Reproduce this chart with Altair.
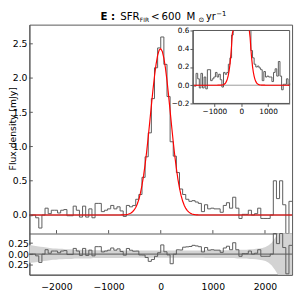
import altair as alt
import pandas as pd

# ---------------- data ----------------
bin_lo = -2520   # left edge of first channel (km/s)
bin_w = 60       # channel width (km/s)
flux = [-0.01, 0.00, -0.04, -0.19, 0.00, 0.10, 0.02, 0.07, 0.07, 0.03,
        0.07, 0.08, -0.01, -0.01, 0.13, 0.07, -0.03, 0.13, -0.03, 0.09,
        -0.04, 0.17, 0.17, 0.05, 0.07, 0.09, 0.14, 0.09, 0.12, 0.06,
        -0.02, 0.14, 0.12, 0.14, 0.23, 0.30, 0.55, 0.85, 1.20, 1.70,
        2.15, 2.44, 2.60, 2.20, 1.73, 1.07, 0.86, 0.62, 0.38, 0.30,
        0.23, 0.20, 0.21, 0.19, 0.17, 0.05, 0.15, 0.09, 0.10, 0.09,
        0.09, 0.04, 0.14, 0.18, 0.10, 0.26, 0.10, -0.05, 0.01, 0.01,
        0.07, 0.00, 0.02, 0.10, -0.05, -0.05, -0.05, 0.00, 0.50, 0.24,
        0.50, 0.15, -0.45, 0.20]
noise = [0.20, 0.19, 0.18, 0.17, 0.16, 0.15, 0.14, 0.13, 0.13, 0.12,
         0.12, 0.11, 0.11, 0.11, 0.10, 0.10, 0.10, 0.10, 0.10, 0.10,
         0.09, 0.09, 0.09, 0.09, 0.09, 0.09, 0.09, 0.09, 0.09, 0.09,
         0.085, 0.085, 0.085, 0.085, 0.085, 0.085, 0.085, 0.085, 0.085, 0.085,
         0.085, 0.085, 0.085, 0.085, 0.085, 0.085, 0.085, 0.085, 0.085, 0.085,
         0.085, 0.085, 0.085, 0.085, 0.085, 0.085, 0.09, 0.09, 0.09, 0.09,
         0.09, 0.09, 0.09, 0.09, 0.09, 0.09, 0.10, 0.10, 0.10, 0.10,
         0.11, 0.11, 0.12, 0.13, 0.14, 0.16, 0.20, 0.26, 0.36, 0.50,
         0.65, 0.80, 1.00, 1.20]
fit_v0 = -900    # first velocity of the fitted profile (km/s)
fit_dv = 30      # sampling of the fitted profile (km/s)
fit = [0.0000, 0.0001, 0.0002, 0.0003, 0.0006, 0.0012, 0.0022, 0.0039, 0.0068, 0.0115,
       0.019, 0.031, 0.048, 0.074, 0.110, 0.161, 0.229, 0.319, 0.432, 0.571,
       0.737, 0.928, 1.140, 1.366, 1.597, 1.822, 2.027, 2.201, 2.331, 2.409,
       2.429, 2.390, 2.293, 2.147, 1.962, 1.748, 1.520, 1.290, 1.067, 0.862,
       0.679, 0.522, 0.391, 0.286, 0.204, 0.142, 0.097, 0.064, 0.042, 0.026,
       0.016, 0.0097, 0.0057, 0.0032, 0.0018, 0.0010, 0.0005, 0.0003, 0.0001, 0.0001,
       0.0000]

main_yticks = [0.0, 0.5, 1.0, 1.5, 2.0, 2.5]
res_yticks = [-0.25, 0.0, 0.25]
xticks = [-2000, -1000, 0, 1000, 2000]
inset_yticks = [-0.2, 0.0, 0.2, 0.4, 0.6]
inset_xticks = [-1000, 0, 1000]

# ---------------- derived tables ----------------
n = len(flux)
edges = [bin_lo + bin_w * i for i in range(n + 1)]
centers = [bin_lo + bin_w * i + bin_w // 2 for i in range(n)]
fit_x = [fit_v0 + fit_dv * i for i in range(len(fit))]
fit_map = dict(zip(fit_x, fit))
model_c = [fit_map.get(c, 0.0) for c in centers]
resid = [round(f - m, 4) for f, m in zip(flux, model_c)]

step_df = pd.DataFrame({"v": edges, "f": flux + [flux[-1]], "r": resid + [resid[-1]]})
band_df = pd.DataFrame({"v": [edges[0]] + centers + [edges[-1]],
                        "lo": [-noise[0]] + [-e for e in noise] + [-noise[-1]],
                        "hi": [noise[0]] + noise + [noise[-1]]})
red_x = [edges[0]] + fit_x + [edges[-1]]
red_y = [0.0] + fit + [0.0]
red_df = pd.DataFrame({"v": red_x, "f": red_y})

X_IN = [-1800, 1800]
Y_IN = [-0.2, 0.6]
in_step_df = step_df[(step_df.v >= X_IN[0]) & (step_df.v <= X_IN[1])]
rows, seg, prev = [], 0, False
for i, (xv, yv) in enumerate(zip(red_x, red_y)):
    near = (yv <= Y_IN[1] or (i > 0 and red_y[i - 1] <= Y_IN[1])
            or (i + 1 < len(red_y) and red_y[i + 1] <= Y_IN[1]))
    if near:
        rows.append({"v": xv, "f": yv, "seg": seg})
        prev = True
    else:
        if prev:
            seg += 1
        prev = False
in_red_df = pd.DataFrame(rows)

# ---------------- layout ----------------
W, H = 270, 257
MB = 214.7            # bottom of main panel / top of residual panel
FONT = "DejaVu Sans"
AX = "#555555"
HIST = "#5a5a5a"

xm = alt.Scale(domain=[bin_lo, edges[-1]], range=[0, W], nice=False, zero=False, clamp=True)
ym = alt.Scale(domain=[-0.27, 2.78], range=[MB, 0], nice=False, zero=False, clamp=True)
yl = alt.Scale(domain=[-0.47, 0.47], range=[H, MB], nice=False, zero=False, clamp=True)
xi = alt.Scale(domain=X_IN, range=[168, 267.5], nice=False, zero=False, clamp=True)
yi = alt.Scale(domain=Y_IN, range=[81, 6], nice=False, zero=False, clamp=True)

ax_mx = alt.Axis(orient="bottom", offset=-(H - MB), labels=False, ticks=False,
                 domainColor=AX, grid=False, title=None)
ax_my = alt.Axis(orient="left", values=main_yticks, format=".1f", ticks=False, labelPadding=2.5,
                 labelFont=FONT, labelFontSize=9.5, labelColor="black", domainColor=AX,
                 grid=False, title=None)
ax_lx = alt.Axis(orient="bottom", values=xticks, format="d", ticks=False, labelPadding=7,
                 labelFont=FONT, labelFontSize=9.5, labelColor="black", domainColor=AX,
                 grid=False, title=None)
ax_ly = alt.Axis(orient="left", values=res_yticks, format=".2f", ticks=False,
                 labelPadding=1, labelFont=FONT, labelFontSize=9.5, labelColor="black",
                 domainColor=AX, grid=False, title=None)
ax_ix = alt.Axis(orient="bottom", offset=-(H - 81), values=inset_xticks, format="d", tickSize=3,
                 tickColor=AX, labelPadding=1, labelFont=FONT, labelFontSize=7.5,
                 labelColor="black", domainColor=AX, grid=False, title=None, zindex=1)
ax_iy = alt.Axis(orient="left", offset=-168, values=inset_yticks, format=".1f", tickSize=3,
                 tickColor=AX, labelPadding=1, labelFont=FONT, labelFontSize=7.5,
                 labelColor="black", domainColor=AX, grid=False, title=None, zindex=1)

# main panel
m_zero = alt.Chart(pd.DataFrame({"y": [0.0]})).mark_rule(color=AX, strokeWidth=1).encode(
    y=alt.Y("y:Q", scale=ym, axis=ax_my))
m_hist = alt.Chart(step_df).mark_line(interpolate="step-after", color=HIST, strokeWidth=1).encode(
    x=alt.X("v:Q", scale=xm, axis=ax_mx), y=alt.Y("f:Q", scale=ym, axis=ax_my))
m_red = alt.Chart(red_df).mark_line(color="#ff0000", strokeWidth=1.2).encode(
    x=alt.X("v:Q", scale=xm, axis=ax_mx), y=alt.Y("f:Q", scale=ym, axis=ax_my))
m_yt = alt.Chart(pd.DataFrame({"t": main_yticks})).mark_rule(color=AX).encode(
    y=alt.Y("t:Q", scale=ym, axis=ax_my), x=alt.value(0), x2=alt.value(3.5))
m_xt = alt.Chart(pd.DataFrame({"t": xticks})).mark_rule(color=AX).encode(
    x=alt.X("t:Q", scale=xm, axis=ax_mx), y=alt.value(MB), y2=alt.value(MB - 3.5))
main = alt.layer(m_zero, m_hist, m_red, m_yt, m_xt)

# residual panel
l_band = alt.Chart(band_df).mark_area(color="#d3d3d3", opacity=1).encode(
    x=alt.X("v:Q", scale=xm, axis=ax_lx), y=alt.Y("lo:Q", scale=yl, axis=ax_ly), y2="hi:Q")
l_zero = alt.Chart(pd.DataFrame({"y": [0.0]})).mark_rule(color=AX, strokeWidth=1).encode(
    y=alt.Y("y:Q", scale=yl, axis=ax_ly))
l_res = alt.Chart(step_df).mark_line(interpolate="step-after", color=HIST, strokeWidth=1).encode(
    x=alt.X("v:Q", scale=xm, axis=ax_lx), y=alt.Y("r:Q", scale=yl, axis=ax_ly))
l_yt = alt.Chart(pd.DataFrame({"t": res_yticks})).mark_rule(color=AX).encode(
    y=alt.Y("t:Q", scale=yl, axis=ax_ly), x=alt.value(0), x2=alt.value(3.5))
lower = alt.layer(l_band, l_zero, l_res, l_yt)

# inset
i_box = alt.Chart(pd.DataFrame({"x0": [X_IN[0]], "x1": [X_IN[1]], "y0": [Y_IN[0]], "y1": [Y_IN[1]]})
                  ).mark_rect(fill="white", stroke=AX, strokeWidth=1).encode(
    x=alt.X("x0:Q", scale=xi, axis=ax_ix), x2="x1:Q",
    y=alt.Y("y0:Q", scale=yi, axis=ax_iy), y2="y1:Q")
i_zero = alt.Chart(pd.DataFrame({"x0": [X_IN[0]], "x1": [X_IN[1]], "y": [0.0]})).mark_rule(
    color="#999999", strokeWidth=1).encode(
    x=alt.X("x0:Q", scale=xi, axis=ax_ix), x2="x1:Q", y=alt.Y("y:Q", scale=yi, axis=ax_iy))
i_hist = alt.Chart(in_step_df).mark_line(interpolate="step-after", color=HIST, strokeWidth=1).encode(
    x=alt.X("v:Q", scale=xi, axis=ax_ix), y=alt.Y("f:Q", scale=yi, axis=ax_iy))
i_red = alt.Chart(in_red_df).mark_line(color="#ff0000", strokeWidth=1.2).encode(
    x=alt.X("v:Q", scale=xi, axis=ax_ix), y=alt.Y("f:Q", scale=yi, axis=ax_iy), detail="seg:N")
inset = alt.layer(i_box, i_zero, i_hist, i_red)

# title pieces and y-axis title
one = pd.DataFrame({"a": [0]})
def txt(s, x, y, size, weight="normal", angle=0, align="left"):
    return alt.Chart(one).mark_text(text=s, font=FONT, fontSize=size, fontWeight=weight,
                                    align=align, baseline="alphabetic", angle=angle,
                                    color="black").encode(x=alt.value(x), y=alt.value(y))

texts = [
    txt("E :", 73, -4.3, 10.5, "bold"),
    txt("SFR", 93.3, -4.3, 10.5),
    txt("FIR", 113.5, -2.3, 6),
    txt("<", 125, -4.3, 10.5),
    txt("600", 135.7, -4.3, 10.5),
    txt("M", 161.5, -4.3, 10.5),
    txt("\u2299", 173.8, -2.6, 7),
    txt("yr", 181.5, -4.3, 10),
    txt("\u22121", 192, -9.2, 7),
    txt("Flux density [mJy]", -14, 107, 9.5, angle=270, align="center"),
]

chart = alt.layer(main, lower, inset, *texts).resolve_scale(
    x="independent", y="independent"
).properties(
    width=W, height=H,
    autosize=alt.AutoSizeParams(type="none"),
    padding={"left": 22, "top": 13, "right": 3, "bottom": 25},
).configure_view(stroke=AX, strokeWidth=1)

chart.save("out.html", embed_options={"renderer": "svg", "actions": False})
